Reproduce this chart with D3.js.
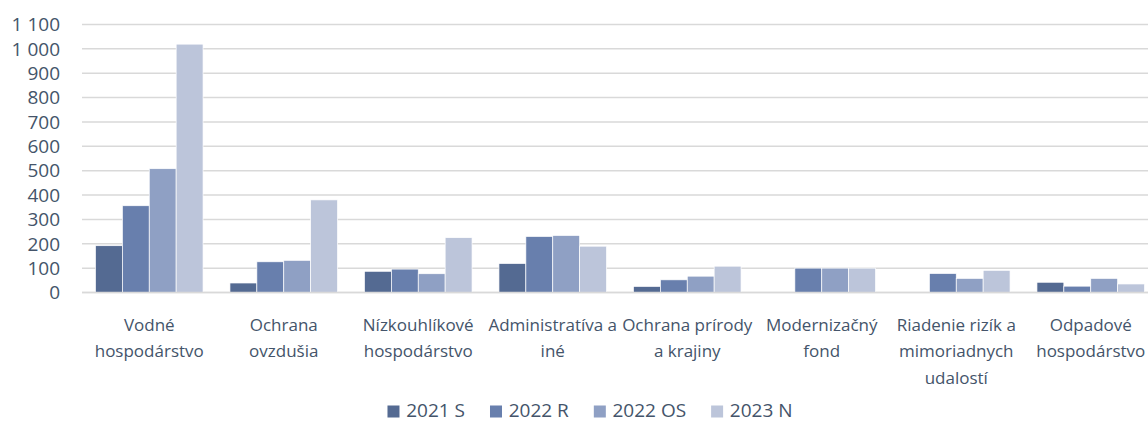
<!DOCTYPE html>
<html>
<head>
<meta charset="utf-8">
<script src="https://cdn.jsdelivr.net/npm/d3@7"></script>
<style>
  body { margin: 0; background: #fff; overflow: hidden; }
  svg { display: block; font-family: "Open Sans", sans-serif; }
</style>
</head>
<body>
<svg id="svg" width="1148" height="423"></svg>
<script>
// categories (line breaks as in the original chart)
var categories = [
  'Vodné\nhospodárstvo',
  'Ochrana\novzdušia',
  'Nízkouhlíkové\nhospodárstvo',
  'Administratíva a\niné',
  'Ochrana prírody\na krajiny',
  'Modernizačný\nfond',
  'Riadenie rizík a\nmimoriadnych\nudalostí',
  'Odpadové\nhospodárstvo'
];
var series = ['2021 S', '2022 R', '2022 OS', '2023 N'];

var values2021S  = [192, 39, 87, 119, 25, 0, 0, 42];
var values2022R  = [356, 126, 96, 230, 52, 100, 78, 26];
var values2022OS = [508, 132, 77, 234, 67, 100, 58, 58];
var values2023N  = [1019, 380, 225, 190, 108, 100, 91, 35];

var yTicks = [0, 100, 200, 300, 400, 500, 600, 700, 800, 900, 1000, 1100];

var colors = ['#546a92', '#687fad', '#8fa0c4', '#bcc5da'];
var textColor = '#44546a';

var allValues = [values2021S, values2022R, values2022OS, values2023N];

var plotLeft = 82, plotRight = 1158, plotTop = 24.4, plotBottom = 292.5;

var svg = d3.select('svg');

var x0 = d3.scaleBand()
    .domain(d3.range(categories.length))
    .range([plotLeft, plotRight])
    .padding(0);

var x1 = d3.scaleBand()
    .domain(series)
    .range([x0.bandwidth() * 0.1, x0.bandwidth() * 0.9])
    .padding(0);

var y = d3.scaleLinear()
    .domain([0, 1100])
    .range([plotBottom, plotTop]);

var fmt = d3.formatLocale({decimal: ',', thousands: ' ', grouping: [3], currency: ['', '']}).format(',d');

// gridlines
svg.append('g')
    .selectAll('line')
    .data(yTicks)
    .enter()
    .append('line')
    .attr('x1', plotLeft)
    .attr('x2', 1148)
    .attr('y1', function(d){ return y(d); })
    .attr('y2', function(d){ return y(d); })
    .attr('stroke', '#d9d9d9')
    .attr('stroke-width', 1.5);

// y tick labels
svg.append('g')
    .selectAll('text')
    .data(yTicks)
    .enter()
    .append('text')
    .attr('x', 60)
    .attr('y', function(d){ return y(d); })
    .attr('dy', '0.36em')
    .attr('text-anchor', 'end')
    .attr('fill', textColor)
    .attr('font-size', 19)
    .text(function(d){ return fmt(d); });

// bars
var groups = svg.append('g')
    .selectAll('g')
    .data(categories)
    .enter()
    .append('g')
    .attr('transform', function(d, i){ return 'translate(' + x0(i) + ',0)'; });

groups.selectAll('rect')
    .data(function(d, i){
        return series.map(function(s, j){ return {s: s, j: j, v: allValues[j][i]}; });
    })
    .enter()
    .filter(function(d){ return d.v > 0; })
    .append('rect')
    .attr('x', function(d){ return x1(d.s); })
    .attr('width', x1.bandwidth())
    .attr('y', function(d){ return y(d.v); })
    .attr('height', function(d){ return y(0) - y(d.v); })
    .attr('fill', function(d){ return colors[d.j]; })
    .attr('stroke', '#fff')
    .attr('stroke-width', 0.7);

// baseline
svg.append('line')
    .attr('x1', plotLeft).attr('x2', 1148)
    .attr('y1', y(0)).attr('y2', y(0))
    .attr('stroke', '#d9d9d9')
    .attr('stroke-width', 1.5);

// category labels
svg.append('g')
    .selectAll('text')
    .data(categories)
    .enter()
    .append('text')
    .attr('text-anchor', 'middle')
    .attr('fill', textColor)
    .attr('font-size', 17)
    .each(function(d, i){
        var t = d3.select(this);
        d.split('\n').forEach(function(line, k){
            t.append('tspan')
                .attr('x', x0(i) + x0.bandwidth() / 2)
                .attr('y', 330.5 + k * 26.5)
                .text(line);
        });
    });

// legend
var legend = svg.append('g');
var items = legend.selectAll('g')
    .data(series)
    .enter()
    .append('g');

items.append('rect')
    .attr('width', 12)
    .attr('height', 12)
    .attr('y', 405.5)
    .attr('fill', function(d, i){ return colors[i]; });

items.append('text')
    .attr('x', 18.7)
    .attr('y', 417)
    .attr('fill', textColor)
    .attr('font-size', 19)
    .text(function(d){ return d; });

var pos = 0, offsets = [];
items.each(function(){
    offsets.push(pos);
    pos += 18.7 + this.querySelector('text').getComputedTextLength() + 25;
});
var total = pos - 25;
var start = 590 - total / 2;
items.attr('transform', function(d, i){ return 'translate(' + (start + offsets[i]) + ',0)'; });
</script>
</body>
</html>
